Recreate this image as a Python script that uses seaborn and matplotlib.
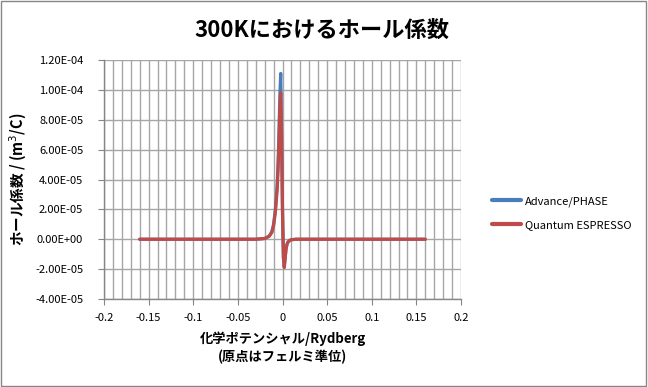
import numpy as np
import pandas as pd
import matplotlib
matplotlib.use("Agg")
import matplotlib.pyplot as plt
import seaborn as sns
from matplotlib.ticker import MultipleLocator, FuncFormatter

# chemical potential (Rydberg), origin = Fermi level
mu = [-0.16, -0.12, -0.08, -0.05, -0.03, -0.02, -0.015, -0.012, -0.01, -0.008,
      -0.006, -0.005, -0.004, -0.003, -0.002, -0.001, 0.0, 0.001, 0.002, 0.003,
      0.004, 0.005, 0.006, 0.008, 0.01, 0.015, 0.02, 0.05, 0.08, 0.12, 0.16]
# Hall coefficient (m^3/C)
advance_phase = [0, 0, 0, 0, 0, 0.05e-5, 0.2e-5, 0.5e-5, 1.0e-5, 2.0e-5,
                 3.6e-5, 5.0e-5, 7.0e-5, 9.6e-5, 11.1e-5, 7.0e-5, 2.0e-5, -1.2e-5, -1.85e-5, -1.2e-5,
                 -0.6e-5, -0.35e-5, -0.2e-5, -0.08e-5, -0.03e-5, 0, 0, 0, 0, 0, 0]
quantum_espresso = [0, 0, 0, 0, 0, 0.05e-5, 0.2e-5, 0.45e-5, 0.9e-5, 1.8e-5,
                    3.3e-5, 4.6e-5, 6.5e-5, 8.8e-5, 9.8e-5, 6.5e-5, 1.8e-5, -1.2e-5, -1.9e-5, -1.25e-5,
                    -0.65e-5, -0.35e-5, -0.2e-5, -0.08e-5, -0.03e-5, 0, 0, 0, 0, 0, 0]
series_names = ["Advance/PHASE", "Quantum ESPRESSO"]
y_ticks = [-4e-5, -2e-5, 0, 2e-5, 4e-5, 6e-5, 8e-5, 1e-4, 1.2e-4]
x_ticks = [-0.2, -0.15, -0.1, -0.05, 0, 0.05, 0.1, 0.15, 0.2]
x_tick_labels = ["-0.2", "-0.15", "-0.1", "-0.05", "0", "0.05", "0.1", "0.15", "0.2"]

df = pd.DataFrame({
    "mu": mu * 2,
    "R": advance_phase + quantum_espresso,
    "series": [series_names[0]] * len(mu) + [series_names[1]] * len(mu),
})

sns.set_style("white")
plt.rcParams['font.family'] = ['Noto Sans CJK JP', 'DejaVu Sans']
plt.rcParams['text.color'] = 'black'
plt.rcParams['axes.labelcolor'] = 'black'
plt.rcParams['xtick.color'] = 'black'
plt.rcParams['ytick.color'] = 'black'

fig = plt.figure(figsize=(6.48, 3.87), dpi=100)
ax = fig.add_axes([104/648, 1-299/387, (461-104)/648, (299-60)/387])

sns.lineplot(data=df, x="mu", y="R", hue="series", ax=ax,
             palette={series_names[0]: "#4A7EBB", series_names[1]: "#BE4B48"},
             linewidth=2.3, legend=True)

ax.set_xlim(-0.2, 0.2)
ax.set_ylim(-4e-5, 1.2e-4)
ax.set_xticks(x_ticks)
ax.xaxis.set_minor_locator(MultipleLocator(0.01))
ax.set_yticks(y_ticks)
ax.set_xticklabels(x_tick_labels)
ax.yaxis.set_major_formatter(FuncFormatter(lambda v, p: "%.2E" % v))
ax.grid(True, which="both", axis="x", color="#A6A6A6", linewidth=1.0)
ax.grid(True, which="major", axis="y", color="#A6A6A6", linewidth=1.0)
ax.tick_params(axis="both", which="major", labelsize=8, length=4, direction="out",
               color="#868686", labelcolor="black")
ax.tick_params(axis="y", which="major", pad=11)
ax.tick_params(axis="x", which="major", pad=6)
ax.tick_params(axis="x", which="minor", length=0)
ax.tick_params(left=True, bottom=True)
for s in ax.spines.values():
    s.set_color("#868686")
    s.set_linewidth(1.0)
ax.spines["top"].set_visible(False)
ax.spines["right"].set_visible(False)
ax.set_axisbelow(True)

ax.set_xlabel("化学ポテンシャル/Rydberg\n(原点はフェルミ準位)", fontsize=9.5, fontweight="bold",
              labelpad=6, color="black", linespacing=1.35)
ax.set_ylabel("ホール係数 / (m$^3$/C)", fontsize=10.5, fontweight="bold", color="black")
ax.yaxis.set_label_coords((29 - 104) / 357, 0.5)

leg = ax.legend(loc="center left", bbox_to_anchor=(1.06, 0.36), frameon=False,
                fontsize=8, handlelength=2.6, labelspacing=1.15, handletextpad=0.3)
for t in leg.get_texts():
    t.set_color("black")
for l in leg.get_lines():
    l.set_linewidth(3)

fig.text(0.497, 0.922, "300Kにおけるホール係数", ha="center", va="center",
         fontsize=16, fontweight="bold", color="black")

# chart border
fig.patches.append(plt.Rectangle((0.002, 0.003), 0.995, 0.994, transform=fig.transFigure,
                                 fill=False, edgecolor="#868686", linewidth=1.0))

fig.savefig("out.png", dpi=100)
